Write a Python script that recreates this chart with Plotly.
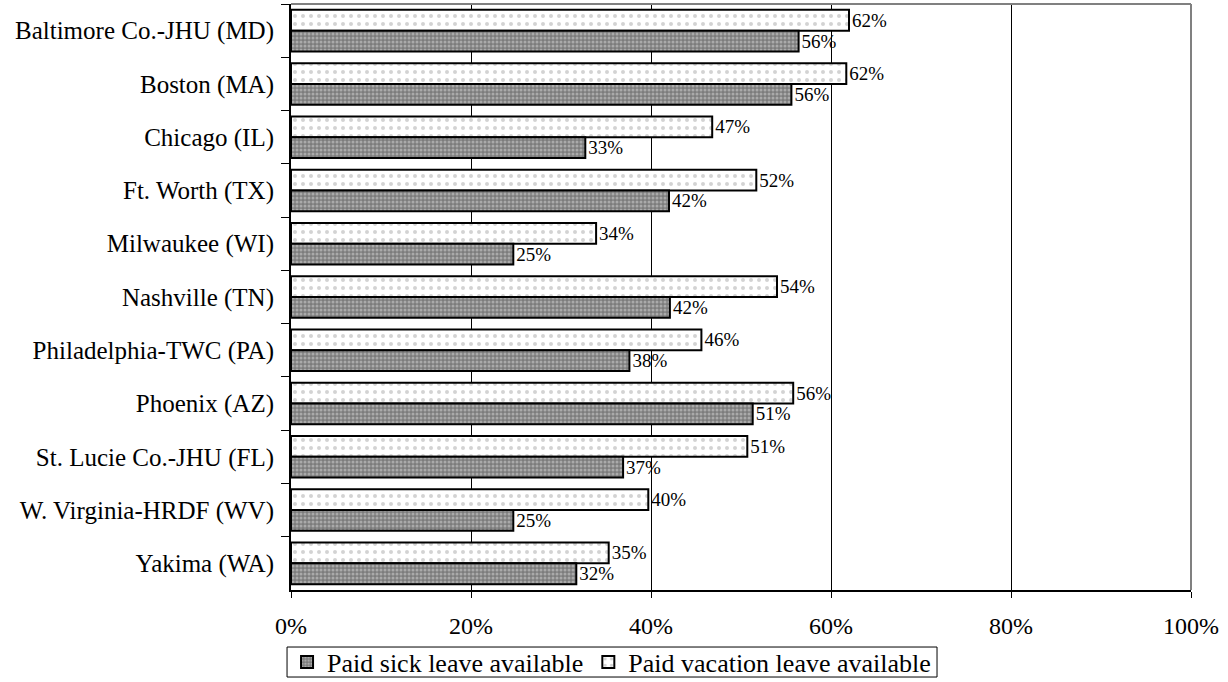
import plotly.graph_objects as go

sites = [
    "Baltimore Co.-JHU (MD)", "Boston (MA)", "Chicago (IL)", "Ft. Worth (TX)",
    "Milwaukee (WI)", "Nashville (TN)", "Philadelphia-TWC (PA)", "Phoenix (AZ)",
    "St. Lucie Co.-JHU (FL)", "W. Virginia-HRDF (WV)", "Yakima (WA)",
]
vacation = [62.0, 61.7, 46.8, 51.7, 33.9, 54.0, 45.6, 55.8, 50.7, 39.7, 35.3]
sick = [56.4, 55.6, 32.7, 42.0, 24.7, 42.1, 37.6, 51.3, 36.9, 24.7, 31.7]

FONT = "Liberation Serif, Times New Roman, serif"

fig = go.Figure()
fig.add_trace(go.Bar(
    y=sites, x=vacation, orientation="h", name="Paid vacation leave available",
    marker=dict(color="white", line=dict(color="black", width=2),
                pattern=dict(shape=".", fgcolor="#a8a8a8", bgcolor="white", size=8, solidity=0.2)),
    texttemplate="%{x:.0f}%", textposition="outside", constraintext="none",
    textfont=dict(size=19, color="black", family=FONT), cliponaxis=False,
))
fig.add_trace(go.Bar(
    y=sites, x=sick, orientation="h", name="Paid sick leave available",
    marker=dict(color="#808080", line=dict(color="black", width=2),
                pattern=dict(shape=".", fgcolor="#d8d8d8", bgcolor="#7c7c7c", size=4, solidity=0.45)),
    texttemplate="%{x:.0f}%", textposition="outside", constraintext="none",
    textfont=dict(size=19, color="black", family=FONT), cliponaxis=False,
))

# grey frame on top and right
fig.add_shape(type="line", xref="paper", yref="paper", x0=0, x1=1, y0=1, y1=1,
              line=dict(color="#808080", width=2))
fig.add_shape(type="line", xref="paper", yref="paper", x0=1, x1=1, y0=0, y1=1,
              line=dict(color="#808080", width=2))
# thin box around the legend (plotly's own legend box is too tall here)
fig.add_shape(type="rect", xref="paper", yref="paper",
              x0=-0.0044, x1=0.7178, y0=-0.0973, y1=-0.1485,
              line=dict(color="black", width=1), layer="above")

fig.update_layout(
    width=1228, height=682,
    margin=dict(l=291, r=37, t=4, b=92, autoexpand=False),
    paper_bgcolor="white", plot_bgcolor="white",
    font=dict(family=FONT, size=25, color="black"),
    barmode="group", bargap=0.22, bargroupgap=0,
    showlegend=True,
    legend=dict(orientation="h", traceorder="reversed",
                xref="container", yref="container", x=0.498, xanchor="center",
                y=0.029, yanchor="middle",
                bgcolor="rgba(0,0,0,0)", borderwidth=0,
                font=dict(size=26, family=FONT),
                itemwidth=30, tracegroupgap=0),
    xaxis=dict(range=[0, 100], dtick=20, ticksuffix="%",
               showgrid=True, gridcolor="black", gridwidth=1,
               showline=True, linecolor="black", linewidth=2,
               ticks="outside", ticklen=6, tickcolor="black",
               ticklabelstandoff=7, zeroline=False, tickfont=dict(size=24)),
    yaxis=dict(autorange="reversed", showline=True, linecolor="black", linewidth=2,
               ticks="outside", ticklen=8, tickcolor="black", tickson="boundaries",
               ticklabelstandoff=10),
)

fig.write_html("out.html", config={"displayModeBar": False},
               post_script="document.body.style.margin='0';")
